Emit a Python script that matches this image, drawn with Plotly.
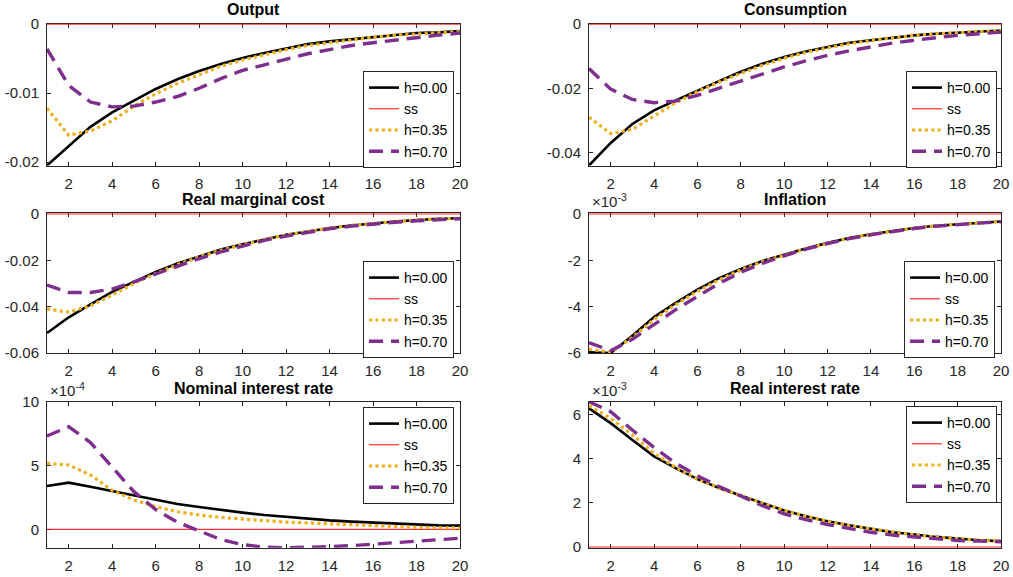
import plotly.graph_objects as go

# Impulse responses over 20 quarters for three habit-persistence settings
periods = list(range(1, 21))
series_names = ["h=0.00", "ss", "h=0.35", "h=0.70"]

output_h000 = [-0.0205, -0.0177, -0.0149, -0.0128, -0.0111, -0.0094, -0.0080, -0.0068, -0.0058, -0.0049,
               -0.0042, -0.0035, -0.0029, -0.0025, -0.0022, -0.0018, -0.0016, -0.0013, -0.0012, -0.0010]
output_h035 = [-0.0122, -0.0161, -0.0155, -0.0140, -0.0119, -0.0101, -0.0086, -0.0073, -0.0061, -0.0052,
               -0.0044, -0.0037, -0.0031, -0.0027, -0.0022, -0.0019, -0.0016, -0.0014, -0.0012, -0.0011]
output_h070 = [-0.0036, -0.0089, -0.0113, -0.0120, -0.0119, -0.0113, -0.0105, -0.0093, -0.0079, -0.0067,
               -0.0059, -0.0051, -0.0043, -0.0037, -0.0031, -0.0027, -0.0023, -0.0019, -0.0016, -0.0013]

cons_h000 = [-0.0439, -0.0369, -0.0310, -0.0268, -0.0237, -0.0206, -0.0177, -0.0148, -0.0123, -0.0102,
             -0.0085, -0.0071, -0.0058, -0.0050, -0.0042, -0.0035, -0.0030, -0.0026, -0.0023, -0.0020]
cons_h035 = [-0.0289, -0.0340, -0.0327, -0.0286, -0.0244, -0.0210, -0.0180, -0.0153, -0.0128, -0.0106,
             -0.0088, -0.0074, -0.0061, -0.0051, -0.0043, -0.0035, -0.0030, -0.0026, -0.0023, -0.0020]
cons_h070 = [-0.0138, -0.0202, -0.0234, -0.0244, -0.0239, -0.0221, -0.0199, -0.0177, -0.0154, -0.0133,
             -0.0114, -0.0097, -0.0083, -0.0071, -0.0059, -0.0050, -0.0042, -0.0035, -0.0030, -0.0025]

rmc_h000 = [-0.0514, -0.0446, -0.0390, -0.0336, -0.0293, -0.0250, -0.0214, -0.0183, -0.0154, -0.0131,
            -0.0110, -0.0090, -0.0076, -0.0061, -0.0050, -0.0041, -0.0033, -0.0027, -0.0021, -0.0019]
rmc_h035 = [-0.0410, -0.0424, -0.0396, -0.0350, -0.0300, -0.0257, -0.0219, -0.0186, -0.0157, -0.0133,
            -0.0110, -0.0091, -0.0076, -0.0061, -0.0050, -0.0041, -0.0033, -0.0027, -0.0021, -0.0019]
rmc_h070 = [-0.0307, -0.0339, -0.0339, -0.0324, -0.0293, -0.0261, -0.0226, -0.0193, -0.0164, -0.0139,
            -0.0114, -0.0096, -0.0079, -0.0064, -0.0053, -0.0043, -0.0036, -0.0030, -0.0026, -0.0021]

infl_h000 = [-5.97e-3, -6.00e-3, -5.26e-3, -4.45e-3, -3.84e-3, -3.27e-3, -2.77e-3, -2.38e-3, -2.03e-3, -1.75e-3,
             -1.49e-3, -1.25e-3, -1.04e-3, -0.88e-3, -0.73e-3, -0.61e-3, -0.51e-3, -0.44e-3, -0.38e-3, -0.33e-3]
infl_h035 = [-5.83e-3, -5.97e-3, -5.33e-3, -4.55e-3, -3.91e-3, -3.34e-3, -2.84e-3, -2.42e-3, -2.06e-3, -1.78e-3,
             -1.51e-3, -1.27e-3, -1.05e-3, -0.88e-3, -0.74e-3, -0.61e-3, -0.51e-3, -0.44e-3, -0.38e-3, -0.33e-3]
infl_h070 = [-5.55e-3, -5.90e-3, -5.41e-3, -4.77e-3, -4.13e-3, -3.56e-3, -3.00e-3, -2.52e-3, -2.13e-3, -1.81e-3,
             -1.52e-3, -1.28e-3, -1.07e-3, -0.90e-3, -0.75e-3, -0.63e-3, -0.53e-3, -0.45e-3, -0.40e-3, -0.34e-3]

nom_h000 = [3.39e-4, 3.66e-4, 3.34e-4, 3.00e-4, 2.64e-4, 2.30e-4, 1.98e-4, 1.75e-4, 1.51e-4, 1.31e-4,
            1.12e-4, 0.97e-4, 0.84e-4, 0.70e-4, 0.60e-4, 0.52e-4, 0.44e-4, 0.37e-4, 0.31e-4, 0.29e-4]
nom_h035 = [5.17e-4, 5.04e-4, 4.26e-4, 3.05e-4, 2.30e-4, 1.78e-4, 1.38e-4, 1.12e-4, 0.94e-4, 0.78e-4,
            0.68e-4, 0.57e-4, 0.50e-4, 0.42e-4, 0.34e-4, 0.24e-4, 0.20e-4, 0.16e-4, 0.13e-4, 0.10e-4]
nom_h070 = [7.31e-4, 8.04e-4, 6.80e-4, 4.85e-4, 2.95e-4, 1.55e-4, 0.55e-4, -0.12e-4, -0.80e-4, -1.20e-4,
            -1.40e-4, -1.44e-4, -1.42e-4, -1.36e-4, -1.28e-4, -1.17e-4, -1.04e-4, -0.91e-4, -0.78e-4, -0.70e-4]

rr_h000 = [6.27e-3, 5.60e-3, 4.84e-3, 4.10e-3, 3.57e-3, 3.07e-3, 2.67e-3, 2.32e-3, 2.00e-3, 1.65e-3,
           1.39e-3, 1.17e-3, 0.99e-3, 0.82e-3, 0.67e-3, 0.57e-3, 0.46e-3, 0.39e-3, 0.31e-3, 0.27e-3]
rr_h035 = [6.39e-3, 5.82e-3, 5.07e-3, 4.24e-3, 3.60e-3, 3.09e-3, 2.67e-3, 2.32e-3, 1.98e-3, 1.66e-3,
           1.39e-3, 1.17e-3, 0.97e-3, 0.82e-3, 0.67e-3, 0.55e-3, 0.45e-3, 0.37e-3, 0.31e-3, 0.27e-3]
rr_h070 = [6.57e-3, 6.12e-3, 5.29e-3, 4.50e-3, 3.79e-3, 3.22e-3, 2.74e-3, 2.29e-3, 1.87e-3, 1.50e-3,
           1.24e-3, 1.02e-3, 0.84e-3, 0.67e-3, 0.54e-3, 0.45e-3, 0.36e-3, 0.30e-3, 0.27e-3, 0.24e-3]

steady_state = [0.0] * 20

panel_titles = ["Output", "Consumption", "Real marginal cost", "Inflation",
                "Nominal interest rate", "Real interest rate"]
panel_series = [
    (output_h000, output_h035, output_h070),
    (cons_h000, cons_h035, cons_h070),
    (rmc_h000, rmc_h035, rmc_h070),
    (infl_h000, infl_h035, infl_h070),
    (nom_h000, nom_h035, nom_h070),
    (rr_h000, rr_h035, rr_h070),
]
y_ranges = [(-0.0205, 0.0), (-0.0439, 0.0), (-0.06, 0.0), (-6e-3, 0.0), (-1.44e-4, 1e-3), (0.0, 6.57e-3)]
y_tickvals = [
    [-0.02, -0.01, 0.0],
    [-0.04, -0.02, 0.0],
    [-0.06, -0.04, -0.02, 0.0],
    [-6e-3, -4e-3, -2e-3, 0.0],
    [0.0, 5e-4, 1e-3],
    [0.0, 2e-3, 4e-3, 6e-3],
]
y_ticktext = [
    ["-0.02", "-0.01", "0"],
    ["-0.04", "-0.02", "0"],
    ["-0.06", "-0.04", "-0.02", "0"],
    ["-6", "-4", "-2", "0"],
    ["0", "5", "10"],
    ["0", "2", "4", "6"],
]
exponent_labels = [None, None, None, "-3", "-4", "-3"]
x_tickvals = [2, 4, 6, 8, 10, 12, 14, 16, 18, 20]

# Layout geometry (pixels)
W, H = 1013, 577
col_px = [(47, 460), (589, 1001)]
row_px = [(23.5, 165.5), (213.3, 353.0), (401.7, 547.7)]
title_top_px = [-1, 189, 378]
legend_px = [(363, 71), (906, 71), (363, 261), (904, 261), (363, 407), (906, 406)]

FONT = "Liberation Sans, Arial, Helvetica, sans-serif"
AX = "#262626"
COLORS = ["#000000", "#FF0000", "#EDB120", "#7E2F8E"]
LINES = [dict(color=COLORS[0], width=2.6),
         dict(color=COLORS[1], width=1),
         dict(color=COLORS[2], width=3.2, dash="dot"),
         dict(color=COLORS[3], width=3.4, dash="14px,8px")]

fig = go.Figure()
layout = dict(
    width=W, height=H,
    margin=dict(l=0, r=0, t=0, b=0, autoexpand=False),
    paper_bgcolor="white", plot_bgcolor="white",
    showlegend=True,
    annotations=[],
)

for i in range(6):
    r, c = divmod(i, 2)
    sfx = "" if i == 0 else str(i + 1)
    x0, x1 = col_px[c]
    top, bot = row_px[r]
    legend_name = "legend" if i == 0 else f"legend{i + 1}"

    h000, h035, h070 = panel_series[i]
    for name, ys, ln in zip(series_names, [h000, steady_state, h035, h070], LINES):
        fig.add_trace(go.Scatter(
            x=periods, y=ys, mode="lines", name=name, line=ln,
            xaxis="x" + sfx, yaxis="y" + sfx, legend=legend_name,
        ))

    # keep a zero line that sits on the frame edge fully visible
    lo, hi = y_ranges[i]
    px_unit = (hi - lo) / (bot - top)
    if hi == 0.0:
        hi += 0.6 * px_unit
    if lo == 0.0:
        lo -= 0.6 * px_unit

    axis_common = dict(
        showline=True, linecolor=AX, linewidth=1, mirror="ticks",
        ticks="inside", ticklen=4, tickwidth=1, tickcolor=AX,
        showgrid=False, zeroline=False, layer="below traces", automargin=False,
        tickfont=dict(family=FONT, size=15, color=AX),
    )
    layout["xaxis" + sfx] = dict(
        axis_common, domain=[x0 / W, x1 / W], anchor="y" + sfx,
        range=[1, 20], tickvals=x_tickvals, ticklabelstandoff=4,
    )
    layout["yaxis" + sfx] = dict(
        axis_common, domain=[1 - bot / H, 1 - top / H], anchor="x" + sfx,
        range=[lo, hi], tickvals=y_tickvals[i], ticktext=y_ticktext[i],
        ticklabelstandoff=4,
    )

    lx, ly = legend_px[i]
    layout[legend_name] = dict(
        x=lx / W, y=1 - ly / H, xanchor="left", yanchor="top",
        bgcolor="white", bordercolor=AX, borderwidth=1,
        font=dict(family=FONT, size=14, color="#000000"),
        traceorder="normal",
    )

    layout["annotations"].append(dict(
        text=f"<b>{panel_titles[i]}</b>", x=(x0 + x1) / 2 / W, y=1 - title_top_px[r] / H,
        xref="paper", yref="paper", xanchor="center", yanchor="top", showarrow=False,
        font=dict(family=FONT, size=16, color="#000000"),
    ))
    if exponent_labels[i]:
        layout["annotations"].append(dict(
            text=f"\u00d710<sup>{exponent_labels[i]}</sup>", x=(x0 + 1) / W, y=1 - (top - 1) / H,
            xref="paper", yref="paper", xanchor="left", yanchor="bottom", showarrow=False,
            font=dict(family=FONT, size=15, color=AX),
        ))

fig.update_layout(**layout)
fig.write_html("out.html")
